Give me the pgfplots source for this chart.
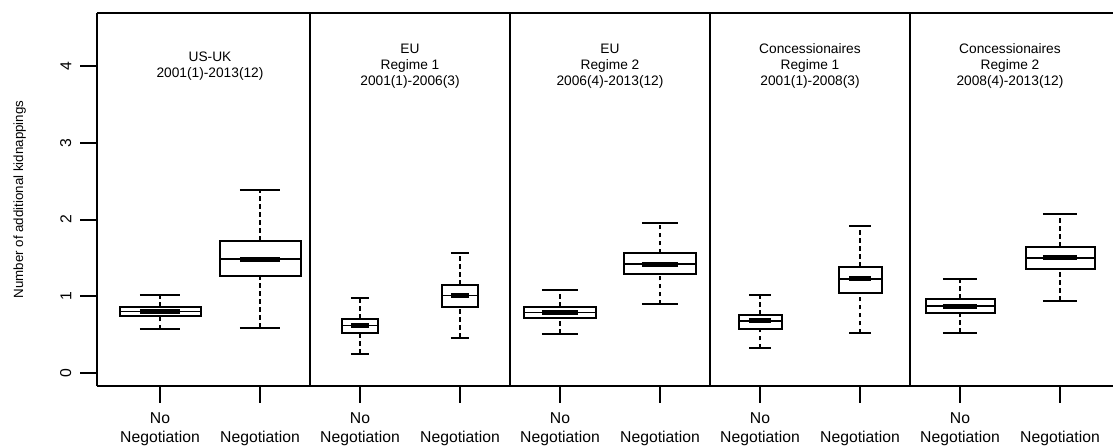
\documentclass[border=0pt]{standalone}
\usepackage{fontspec}
\setmainfont{Liberation Sans}
\usepackage{pgfplots}
\pgfplotsset{compat=1.18}
\usepgfplotslibrary{statistics}

\pgfplotsset{
  rbox/.style={
    black, solid, line width=1.5pt,
    boxplot/draw direction=y,
    boxplot/draw/box/.code={%
      \draw[black, solid, line width=1.5pt]
        (boxplot box cs:\pgfplotsboxplotvalue{lower quartile},0) rectangle
        (boxplot box cs:\pgfplotsboxplotvalue{upper quartile},1);},
    boxplot/draw/median/.code={%
      \draw[black, solid, line width=1.3pt]
        (boxplot box cs:\pgfplotsboxplotvalue{median},0) --
        (boxplot box cs:\pgfplotsboxplotvalue{median},1);
      \draw[black, solid, line width=3.75pt]
        (boxplot box cs:\pgfplotsboxplotvalue{median},0.25) --
        (boxplot box cs:\pgfplotsboxplotvalue{median},0.75);},
    boxplot/draw/lower whisker/.code={%
      \draw[black, line width=1.5pt, dash pattern=on 3.5pt off 2.5pt]
        (boxplot cs:\pgfplotsboxplotvalue{lower whisker}) --
        (boxplot cs:\pgfplotsboxplotvalue{lower quartile});
      \draw[black, solid, line width=1.5pt]
        (boxplot whisker cs:\pgfplotsboxplotvalue{lower whisker},0) --
        (boxplot whisker cs:\pgfplotsboxplotvalue{lower whisker},1);},
    boxplot/draw/upper whisker/.code={%
      \draw[black, line width=1.5pt, dash pattern=on 3.5pt off 2.5pt]
        (boxplot cs:\pgfplotsboxplotvalue{upper quartile}) --
        (boxplot cs:\pgfplotsboxplotvalue{upper whisker});
      \draw[black, solid, line width=1.5pt]
        (boxplot whisker cs:\pgfplotsboxplotvalue{upper whisker},0) --
        (boxplot whisker cs:\pgfplotsboxplotvalue{upper whisker},1);},
  }
}

\begin{document}
\begin{tikzpicture}
\begin{axis}[
  name=ax,
  scale only axis,
  width=762pt, height=279.75pt,
  xmin=0.37, xmax=10.53,
  ymin=-0.169, ymax=4.69,
  axis x line*=box, axis y line*=left,
  axis line style={black, line width=1.5pt},
  every tick/.style={black, line width=1.5pt},
  tick align=outside,
  major tick length=12.5pt,
  xtick pos=bottom, ytick pos=left,
  xtick={1,2,3,4,5,6,7,8,9,10},
  xticklabels={{No\\Negotiation},{\phantom{No}\\Negotiation},
               {No\\Negotiation},{\phantom{No}\\Negotiation},
               {No\\Negotiation},{\phantom{No}\\Negotiation},
               {No\\Negotiation},{\phantom{No}\\Negotiation},
               {No\\Negotiation},{\phantom{No}\\Negotiation}},
  xticklabel style={align=center, anchor=north, font=\fontsize{11.8}{14.25}\selectfont, yshift=-3.6pt},
  ytick={0,1,2,3,4},
  yticklabel style={rotate=90, anchor=south, inner ysep=6.5pt, font=\fontsize{11.8}{13}\selectfont},
  /pgf/number format/assume math mode=true,
  extra x ticks={2.5,4.5,6.5,8.5},
  extra x tick labels={},
  extra x tick style={major tick length=0pt, grid=major, major grid style={black, solid, line width=1.5pt}},
  ylabel={Number of additional kidnappings},
  ylabel style={font=\fontsize{12.2}{14}\selectfont},
  every axis y label/.style={at={(axis description cs:-0.076,0.5)}, rotate=90, anchor=center},
  clip=false,
]
\addplot[rbox, boxplot prepared={draw position=1, lower whisker=0.57, lower quartile=0.74, median=0.80, upper quartile=0.86, upper whisker=1.02, box extend=0.81, whisker extend=0.405}] coordinates {};
\addplot[rbox, boxplot prepared={draw position=2, lower whisker=0.59, lower quartile=1.26, median=1.485, upper quartile=1.72, upper whisker=2.39, box extend=0.81, whisker extend=0.405}] coordinates {};
\addplot[rbox, boxplot prepared={draw position=3, lower whisker=0.25, lower quartile=0.525, median=0.62, upper quartile=0.71, upper whisker=0.977, box extend=0.367, whisker extend=0.1835}] coordinates {};
\addplot[rbox, boxplot prepared={draw position=4, lower whisker=0.456, lower quartile=0.865, median=1.01, upper quartile=1.15, upper whisker=1.57, box extend=0.367, whisker extend=0.1835}] coordinates {};
\addplot[rbox, boxplot prepared={draw position=5, lower whisker=0.51, lower quartile=0.72, median=0.79, upper quartile=0.865, upper whisker=1.077, box extend=0.727, whisker extend=0.3635}] coordinates {};
\addplot[rbox, boxplot prepared={draw position=6, lower whisker=0.895, lower quartile=1.29, median=1.42, upper quartile=1.56, upper whisker=1.95, box extend=0.727, whisker extend=0.3635}] coordinates {};
\addplot[rbox, boxplot prepared={draw position=7, lower whisker=0.32, lower quartile=0.58, median=0.68, upper quartile=0.76, upper whisker=1.016, box extend=0.43, whisker extend=0.215}] coordinates {};
\addplot[rbox, boxplot prepared={draw position=8, lower whisker=0.517, lower quartile=1.04, median=1.225, upper quartile=1.385, upper whisker=1.91, box extend=0.43, whisker extend=0.215}] coordinates {};
\addplot[rbox, boxplot prepared={draw position=9, lower whisker=0.52, lower quartile=0.786, median=0.87, upper quartile=0.964, upper whisker=1.23, box extend=0.69, whisker extend=0.345}] coordinates {};
\addplot[rbox, boxplot prepared={draw position=10, lower whisker=0.94, lower quartile=1.36, median=1.50, upper quartile=1.646, upper whisker=2.07, box extend=0.69, whisker extend=0.345}] coordinates {};

\begin{scope}[every node/.style={align=center, font=\fontsize{10.3}{12}\selectfont}]
\node at (axis cs:1.5,4) {US-UK\\2001(1)-2013(12)};
\node at (axis cs:3.5,4) {EU\\Regime 1\\2001(1)-2006(3)};
\node at (axis cs:5.5,4) {EU\\Regime 2\\2006(4)-2013(12)};
\node at (axis cs:7.5,4) {Concessionaires\\Regime 1\\2001(1)-2008(3)};
\node at (axis cs:9.5,4) {Concessionaires\\Regime 2\\2008(4)-2013(12)};
\end{scope}
\end{axis}
\pgfresetboundingbox
\path ([shift={(-72.75pt,-44.25pt)}]ax.south west) rectangle ([shift={(0pt,9.75pt)}]ax.north east);
\end{tikzpicture}
\end{document}
